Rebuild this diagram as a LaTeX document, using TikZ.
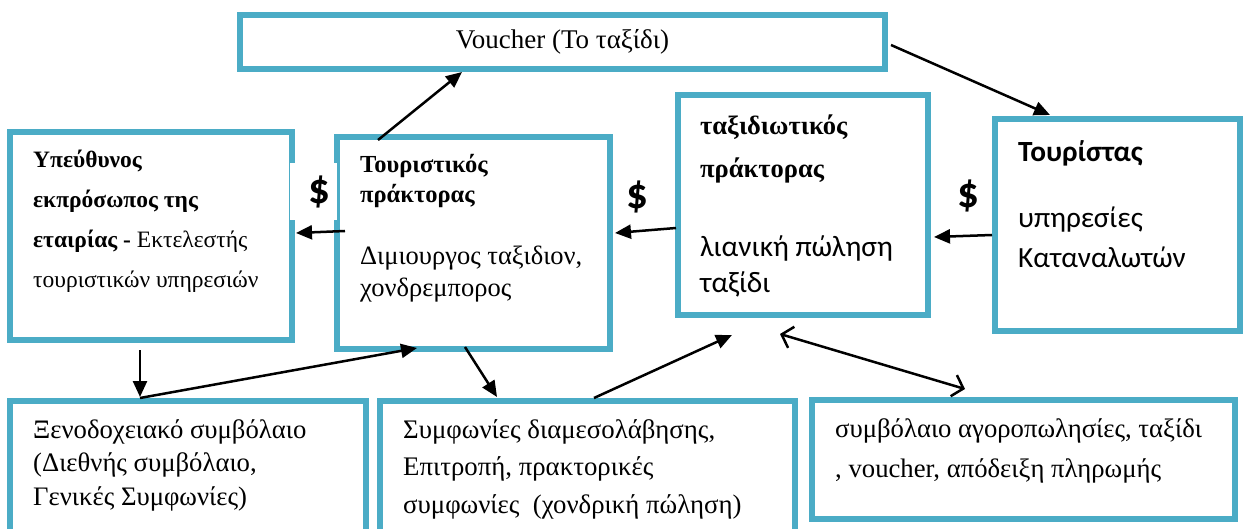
\documentclass[tikz,border=0pt]{standalone}
\usepackage{fontspec}
\setmainfont{Liberation Serif}
\newfontfamily\sansgr{Carlito}
\usetikzlibrary{arrows.meta,calc}
\definecolor{frame}{RGB}{75,172,198}
\tikzset{
  box/.style={draw=frame, line width=6pt, fill=white, inner sep=0pt, anchor=center},
  txt/.style={anchor=base west, inner sep=0pt, align=left},
  conn/.style={line width=2.5pt, -{Triangle[length=16pt,width=14pt]}},
  both/.style={line width=2.5pt, {Straight Barb[length=10pt,width=22pt]}-{Straight Barb[length=10pt,width=22pt]}},
  dollar/.style={font=\sansgr\bfseries\fontsize{43}{43}\selectfont, inner sep=0pt, fill=white}
}
\begin{document}
\begin{tikzpicture}[x=1pt,y=-1pt]
\useasboundingbox (0,0) rectangle (1245,529);

% frames
\node[box, minimum width=645pt, minimum height=54pt, font=\fontsize{27}{30}\selectfont] (V) at (562.5,42) {Voucher (Το ταξίδι)};
\node[box, minimum width=282pt, minimum height=208pt] (A) at (151,236) {};
\node[box, minimum width=273pt, minimum height=212pt] (B) at (473.5,243) {};
\node[box, minimum width=250pt, minimum height=220pt] (C) at (803,205) {};
\node[box, minimum width=245pt, minimum height=212pt] (D) at (1117.5,225) {};
\node[box, minimum width=356pt, minimum height=135pt] (E) at (188,468.5) {};
\node[box, minimum width=415pt, minimum height=135pt] (F) at (587.5,468.5) {};
\node[box, minimum width=423pt, minimum height=119pt] (G) at (1023.5,459.5) {};

% texts (each node is placed by the baseline of its last line)
\node[txt, font=\fontsize{23.5}{40}\selectfont] (At) at (33,288)
  {\textbf{Υπεύθυνος}\\\textbf{εκπρόσωπος της}\\\textbf{εταιρίας -} Εκτελεστής\\τουριστικών υπηρεσιών};
\node[txt, font=\bfseries\fontsize{24.5}{30}\selectfont] (Bt) at (360,203) {Τουριστικός\\πράκτορας};
\node[txt, font=\fontsize{26.5}{32}\selectfont] (Bb) at (360,297) {Διμιουργος ταξιδιον,\\χονδρεμπορος};
\node[txt, font=\bfseries\fontsize{26.5}{43}\selectfont] (Ct) at (700,178) {ταξιδιωτικός\\πράκτορας};
\node[txt, font=\sansgr\fontsize{29.5}{36}\selectfont] (Cb) at (700,293) {λιανική πώληση\\ταξίδι};
\node[txt, font=\sansgr\bfseries\fontsize{29.3}{36}\selectfont] (Dt) at (1018,162) {Τουρίστας};
\node[txt, font=\sansgr\fontsize{29.3}{40}\selectfont] (Db) at (1018,268) {υπηρεσίες\\Καταναλωτών};
\node[txt, font=\fontsize{26.7}{33.5}\selectfont] (Et) at (33,505)
  {Ξενοδοχειακό συμβόλαιο\\(Διεθνής συμβόλαιο,\\Γενικές Συμφωνίες)};
\node[txt, font=\fontsize{26.8}{37.5}\selectfont] (Ft) at (403,513)
  {Συμφωνίες διαμεσολάβησης,\\Επιτροπή, πρακτορικές\\συμφωνίες\ \ (χονδρική πώληση)};
\node[txt, font=\fontsize{26.7}{40}\selectfont] (Gt) at (835,477)
  {συμβόλαιο αγοροπωλησίες, ταξίδι\\, voucher, απόδειξη πληρωμής};

% money flow markers
\node[dollar, text width=47pt, align=center, minimum height=57pt] (s1) at (313.5,191.5) {\hspace*{12pt}\$};
\node[dollar] (s2) at (637,197) {\$};
\node[dollar] (s3) at (968,196) {\$};

% connectors
\draw[conn] ($(B.north west)+(44,6)$) -- ($(V.south west)+(225,0)$);
\draw[conn] ($(V.east)+(3,3)$) -- ($(D.north west)+(58,-1)$);
\draw[conn] ($(D.west)+(0,10)$) -- ($(C.east)+(3,32)$);
\draw[conn] ($(C.west)+(1,23)$) -- ($(B.east)+(2,-10)$);
\draw[conn] ($(B.west)+(11,-12)$) -- ($(A.east)+(1,-3)$);
\draw[conn] ($(A.south west)+(133,7)$) -- ($(E.north west)+(133,-1)$);
\draw[conn] ($(E.north west)+(133,0)$) -- ($(B.south west)+(83,-4)$);
\draw[conn] ($(B.south west)+(131,-5)$) -- ($(F.north west)+(120,-1)$);
\draw[conn] ($(F.north west)+(217,0)$) -- ($(C.south west)+(57,17)$);
\draw[both] ($(C.south west)+(105,16)$) -- ($(G.north west)+(156,-8)$);
\end{tikzpicture}
\end{document}
